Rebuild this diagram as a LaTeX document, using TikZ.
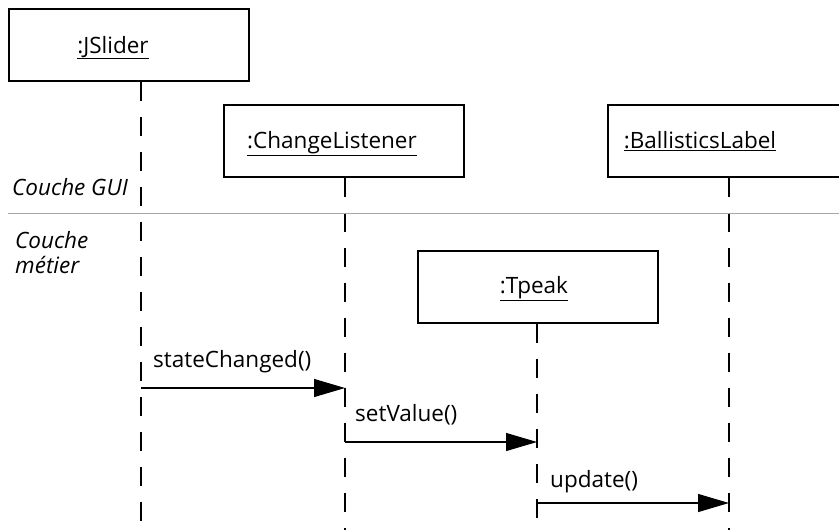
\documentclass[tikz,border=0pt]{standalone}
\usepackage{fontspec}
\setmainfont{Open Sans}
\usepackage{tikz}
\usetikzlibrary{arrows.meta,positioning}

\begin{document}
\begin{tikzpicture}[x=1pt, y=-1pt,
    box_style/.style={draw, line width=1.2pt, minimum width=240pt, minimum height=72pt, inner sep=0pt},
    name_style/.style={anchor=base, font=\fontsize{22.5}{26}\selectfont, inner sep=0pt},
    lifeline_style/.style={line width=1.2pt, dash pattern=on 19pt off 16pt},
    msg_style/.style={line width=1.2pt, -{Triangle[length=31pt, width=18pt]}},
    msg_label/.style={anchor=base west, font=\fontsize{22.5}{26}\selectfont, inner sep=0pt},
    layer_style/.style={anchor=base west, font=\fontsize{22.5}{26}\selectfont\itshape, inner sep=0pt, align=left},
    layer_line/.style={gray!70, line width=0.9pt}
]
    \useasboundingbox (0,0) rectangle (839,530);
    \clip (0,0) rectangle (839,530);

    % Object boxes
    \node (jslider_box) at (129,45) [box_style] {};
    \node (listener_box) at (344,141) [box_style] {};
    \node (ballistics_box) at (728,141) [box_style] {};
    \node (tpeak_box) at (538,287) [box_style] {};

    % Object names
    \node (jslider) at (113,53) [name_style] {\underline{:JSlider}};
    \node (listener) at (332,148) [name_style] {\underline{:ChangeListener}};
    \node (ballistics) at (700,148) [name_style] {\underline{:BallisticsLabel}};
    \node (tpeak) at (534,293) [name_style] {\underline{:Tpeak}};

    % Lifelines
    \coordinate (jslider_end) at (141,530);
    \coordinate (listener_end) at (345,530);
    \coordinate (tpeak_end) at (537,530);
    \coordinate (ballistics_end) at (729,530);
    \draw[lifeline_style] (jslider_box.south -| jslider_end) -- (jslider_end);
    \draw[lifeline_style] (listener_box.south -| listener_end) -- (listener_end);
    \draw[lifeline_style] (tpeak_box.south -| tpeak_end) -- (tpeak_end);
    \draw[lifeline_style] (ballistics_box.south -| ballistics_end) -- (ballistics_end);

    % Layers
    \coordinate (layer_left) at (8,213);
    \coordinate (layer_right) at (839,213);
    \draw[layer_line] (layer_left) -- (layer_right);
    \node (gui) at (12,195) [layer_style] {Couche GUI};
    \node (metier) at (15,248) [layer_style] {Couche};
    \node (metier2) at (15,273) [layer_style] {métier};

    % Messages
    \draw[msg_style] (jslider_end |- 0,388) -- (listener_end |- 0,388);
    \node (state_changed) at (153,367) [msg_label] {stateChanged()};
    \draw[msg_style] (listener_end |- 0,442) -- (tpeak_end |- 0,442);
    \node (set_value) at (355,421) [msg_label] {setValue()};
    \draw[msg_style] (tpeak_end |- 0,503) -- (ballistics_end |- 0,503);
    \node (update) at (550,487) [msg_label] {update()};

\end{tikzpicture}
\end{document}
